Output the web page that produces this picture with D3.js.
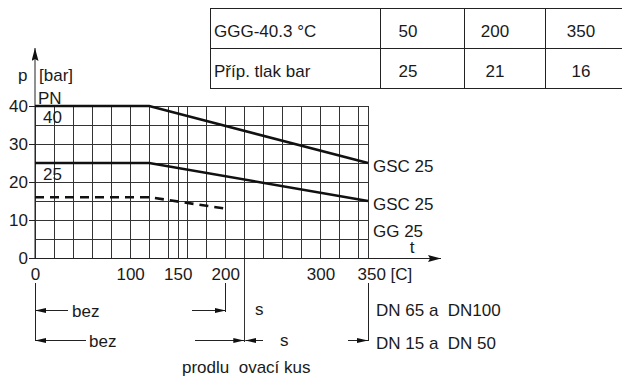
<!doctype html>
<html lang="cs">
<head>
	<meta charset="UTF-8">
	<title>p-t diagram</title>
	<style>
		body { margin: 0; background: #fff; }
		svg text { font-family: "Liberation Sans", Arial, sans-serif; font-size: 17px; fill: #1a1a1a; white-space: pre; }
		.grid line { stroke: #333; stroke-width: 1; }
		.curve { fill: none; stroke: #111; stroke-width: 2.6; }
		.thin { stroke: #222; stroke-width: 1; fill: none; }
	</style>
</head>
<body>
	<script src="https://cdnjs.cloudflare.com/ajax/libs/d3/7.8.5/d3.min.js"></script>
	<script>
		// data
		var tempTicks = [0, 100, 150, 200, 300, 350],
			pressureTicks = [0, 10, 20, 30, 40],
			gridTemps = [0, 20, 40, 60, 80, 100, 120, 140, 150, 160, 180, 200, 220, 240, 260, 280, 300, 320, 340, 350],
			gridPressures = [0, 5, 10, 15, 20, 25, 30, 35, 40];

		var pn40Temps = [0, 120, 350],
			pn40Values = [40, 40, 25];
		var pn25Temps = [0, 120, 350],
			pn25Values = [25, 25, 15];
		var gg25Temps = [0, 120, 200],
			gg25Values = [16, 16, 13];

		var curveLabels = ['GSC 25', 'GSC 25', 'GG 25'],
			curveLabelPressures = [25, 15, 8];

		var tableHead = ['GGG-40.3 °C', 'Příp. tlak bar'],
			tableTemps = [50, 200, 350],
			tablePressures = [25, 21, 16];

		var w = 622,
			h = 376;

		var svg = d3.select('body').append('svg')
			.attr('width', w)
			.attr('height', h);

		var x = d3.scaleLinear().domain([0, 350]).range([35, 368]);
		var y = d3.scaleLinear().domain([0, 40]).range([258, 106]);

		// markers
		var defs = svg.append('defs');
		defs.append('marker')
			.attr('id', 'axisArrow')
			.attr('markerUnits', 'userSpaceOnUse')
			.attr('markerWidth', 13).attr('markerHeight', 7)
			.attr('refX', 13).attr('refY', 3.5)
			.attr('orient', 'auto')
			.append('path').attr('d', 'M0,0 L13,3.5 L0,7 L2,3.5 z').attr('fill', '#111');
		defs.append('marker')
			.attr('id', 'dimArrow')
			.attr('markerUnits', 'userSpaceOnUse')
			.attr('markerWidth', 11).attr('markerHeight', 5)
			.attr('refX', 11).attr('refY', 2.5)
			.attr('orient', 'auto')
			.append('path').attr('d', 'M0,0 L11,2.5 L0,5 z').attr('fill', '#111');

		// grid
		var grid = svg.append('g').attr('class', 'grid');
		grid.selectAll('.v').data(gridTemps).enter().append('line')
			.attr('class', 'v')
			.attr('x1', function(d) { return Math.round(x(d)) + 0.5; })
			.attr('x2', function(d) { return Math.round(x(d)) + 0.5; })
			.attr('y1', y(40))
			.attr('y2', function(d) { return d === 220 ? 342 : y(0); });
		grid.selectAll('.h').data(gridPressures).enter().append('line')
			.attr('class', 'h')
			.attr('x1', x(0))
			.attr('x2', x(350))
			.attr('y1', function(d) { return Math.round(y(d)) + 0.5; })
			.attr('y2', function(d) { return Math.round(y(d)) + 0.5; });

		// axes lines with arrows
		svg.append('line').attr('class', 'thin')
			.attr('x1', x(0)).attr('y1', y(0)).attr('x2', x(0)).attr('y2', 48)
			.attr('marker-end', 'url(#axisArrow)');
		svg.append('line').attr('class', 'thin')
			.attr('x1', x(0)).attr('y1', y(0) + 0.5).attr('x2', 441).attr('y2', y(0) + 0.5)
			.attr('marker-end', 'url(#axisArrow)');

		var yAxis = d3.axisLeft(y).tickValues(pressureTicks).tickSize(6).tickPadding(1);
		svg.append('g').attr('transform', 'translate(' + x(0) + ',0)').call(yAxis)
			.call(function(g) {
				g.select('.domain').remove();
				g.selectAll('text').attr('font-size', null).attr('font-family', null);
				g.selectAll('line').attr('stroke', '#222');
			});

		var xAxis = d3.axisBottom(x).tickValues(tempTicks).tickSize(0).tickPadding(10)
			.tickFormat(function(d) { return d === 350 ? '350 [C]' : d; });
		svg.append('g').attr('transform', 'translate(0,' + y(0) + ')').call(xAxis)
			.call(function(g) {
				g.select('.domain').remove();
				g.selectAll('text').attr('font-size', null).attr('font-family', null);
				g.selectAll('text').filter(function(d) { return d === 350; })
					.attr('text-anchor', 'start').attr('x', -11);
			});

		// curves
		var line = d3.line()
			.x(function(d) { return x(d[0]); })
			.y(function(d) { return y(d[1]); });

		var zip = function(a, b) {
			return a.map(function(v, i) { return [v, b[i]]; });
		};

		svg.append('path').attr('class', 'curve').attr('d', line(zip(pn40Temps, pn40Values)));
		svg.append('path').attr('class', 'curve').attr('d', line(zip(pn25Temps, pn25Values)));
		svg.append('path').attr('class', 'curve').attr('stroke-dasharray', '9,6')
			.attr('d', line(zip(gg25Temps, gg25Values)));

		svg.selectAll('.clabel').data(curveLabels).enter().append('text')
			.attr('class', 'clabel')
			.attr('x', x(350) + 5)
			.attr('y', function(d, i) { return y(curveLabelPressures[i]) + 9; })
			.text(function(d) { return d; });

		// axis titles and PN labels
		svg.append('text').attr('x', 18).attr('y', 81).text('p');
		svg.append('text').attr('x', 39).attr('y', 81).text('[bar]');
		svg.append('text').attr('x', 38).attr('y', 104).text('PN');
		svg.append('text').attr('x', 43).attr('y', y(40) + 17).text('40');
		svg.append('text').attr('x', 43).attr('y', y(25) + 17).text('25');
		svg.append('text').attr('x', 412).attr('y', 253).attr('text-anchor', 'middle').text('t');

		// dimension lines below the chart
		var vLine = function(t, y1, y2) {
			svg.append('line').attr('class', 'thin')
				.attr('x1', Math.round(x(t)) + 0.5).attr('x2', Math.round(x(t)) + 0.5)
				.attr('y1', y1).attr('y2', y2);
		};
		var dim = function(xFrom, xTo, yy) {
			svg.append('line').attr('class', 'thin')
				.attr('x1', xFrom).attr('x2', xTo).attr('y1', yy).attr('y2', yy)
				.attr('marker-end', 'url(#dimArrow)');
		};
		var label = function(tx, ty, s) {
			svg.append('text').attr('x', tx).attr('y', ty).text(s);
		};

		vLine(0, 283, 341);
		vLine(200, 283, 312);
		vLine(350, 283, 341);

		dim(x(0) + 33, x(0), 310.5);
		label(72, 317, 'bez');
		dim(192, x(200) + 0.5, 310.5);
		label(255, 315, 's');
		label(376, 316, 'DN 65 a  DN100');

		dim(x(0) + 51, x(0), 340.5);
		label(89, 347, 'bez');
		dim(195, x(220), 340.5);
		dim(263, x(220) + 1, 340.5);
		label(280, 346, 's');
		dim(348, x(350), 340.5);
		label(376, 349, 'DN 15 a  DN 50');

		label(182, 373, 'prodlu  ovací kus');

		// table
		var colX = [210, 380, 464, 545],
			rowY = [8, 48, 88],
			table = svg.append('g');
		table.selectAll('.hr').data(rowY).enter().append('line')
			.attr('class', 'thin')
			.attr('x1', colX[0]).attr('x2', w)
			.attr('y1', function(d) { return d + 0.5; }).attr('y2', function(d) { return d + 0.5; });
		table.selectAll('.vr').data(colX).enter().append('line')
			.attr('class', 'thin')
			.attr('x1', function(d) { return d + 0.5; }).attr('x2', function(d) { return d + 0.5; })
			.attr('y1', rowY[0]).attr('y2', rowY[2]);

		table.selectAll('.th').data(tableHead).enter().append('text')
			.attr('x', 214)
			.attr('y', function(d, i) { return rowY[i] + 29; })
			.text(function(d) { return d; });

		var colCenters = [408, 495, 581];
		table.selectAll('.tt').data(tableTemps).enter().append('text')
			.attr('x', function(d, i) { return colCenters[i]; })
			.attr('y', rowY[0] + 29)
			.attr('text-anchor', 'middle')
			.text(function(d) { return d; });
		table.selectAll('.tp').data(tablePressures).enter().append('text')
			.attr('x', function(d, i) { return colCenters[i]; })
			.attr('y', rowY[1] + 29)
			.attr('text-anchor', 'middle')
			.text(function(d) { return d; });
	</script>
</body>
</html>
